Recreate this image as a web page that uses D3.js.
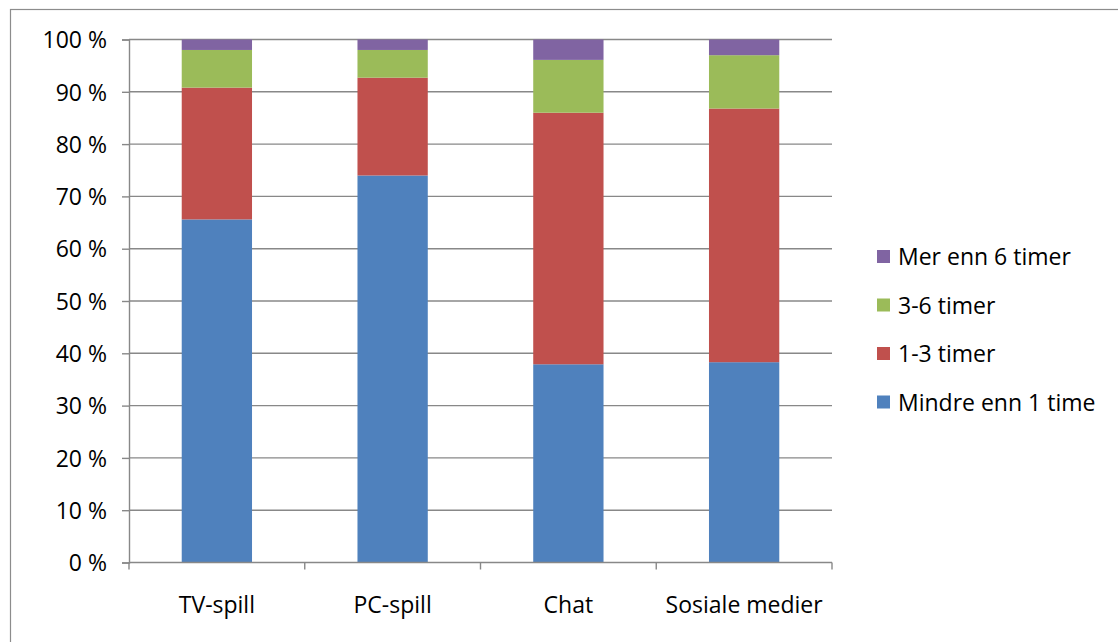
<!DOCTYPE html>
<html>
<head>
<meta charset="utf-8">
<script src="https://cdn.jsdelivr.net/npm/d3@7/dist/d3.min.js"></script>
<style>
  html, body { margin: 0; padding: 0; background: #fff; }
  svg { display: block; }
  text { font-family: "Open Sans", Lato, "DejaVu Sans", sans-serif; fill: #000; }
</style>
</head>
<body>
<svg id="chart" width="1118" height="642"></svg>
<script>
// Time spent per activity, share of respondents (%)
const categories = ["TV-spill", "PC-spill", "Chat", "Sosiale medier"];
const seriesNames = ["Mindre enn 1 time", "1-3 timer", "3-6 timer", "Mer enn 6 timer"];
const seriesColors = ["#4F81BD", "#C0504D", "#9BBB59", "#8064A2"];
const lessThan1h = [65.6, 74.0, 37.9, 38.3];
const from1to3h = [25.2, 18.7, 48.1, 48.5];
const from3to6h = [7.2, 5.3, 10.1, 10.2];
const moreThan6h = [2.0, 2.0, 3.9, 3.0];
const yTicks = [0, 10, 20, 30, 40, 50, 60, 70, 80, 90, 100];

const seriesValues = [lessThan1h, from1to3h, from3to6h, moreThan6h];
const rows = categories.map((c, i) => {
  const r = { category: c };
  seriesNames.forEach((s, k) => { r[s] = seriesValues[k][i]; });
  return r;
});
const stacked = d3.stack().keys(seriesNames)(rows);

const svg = d3.select("#chart");
const plot = { left: 129, right: 832, top: 39.5, bottom: 562.5 };
const fontSize = 23;

// outer chart frame
svg.append("rect")
  .attr("x", 10.5).attr("y", 9.5)
  .attr("width", 1130).attr("height", 660)
  .attr("fill", "none").attr("stroke", "#8c8c8c").attr("stroke-width", 1.2);

const x = d3.scaleBand().domain(categories)
  .range([plot.left, plot.right]).paddingInner(0.6).paddingOuter(0.3);
const y = d3.scaleLinear().domain([0, 100]).range([plot.bottom, plot.top]);

// horizontal gridlines
svg.append("g").selectAll("line").data(yTicks.filter(t => t > 0)).join("line")
  .attr("x1", plot.left).attr("x2", plot.right)
  .attr("y1", d => y(d)).attr("y2", d => y(d))
  .attr("stroke", "#888").attr("stroke-width", 1.4);

// stacked bars
svg.append("g").selectAll("g").data(stacked).join("g")
  .attr("fill", (d, i) => seriesColors[i])
  .selectAll("rect").data(d => d).join("rect")
  .attr("x", d => x(d.data.category))
  .attr("width", x.bandwidth())
  .attr("y", d => y(d[1]))
  .attr("height", d => y(d[0]) - y(d[1]));

// y axis
const yAxis = svg.append("g")
  .attr("transform", `translate(${plot.left},0)`)
  .call(d3.axisLeft(y).tickValues(yTicks).tickSize(7).tickPadding(15)
    .tickFormat(d => d + " %"));
yAxis.select(".domain").attr("stroke", "#888").attr("stroke-width", 1.4);
yAxis.selectAll(".tick line").attr("stroke", "#888").attr("stroke-width", 1.4);
yAxis.selectAll(".tick text").attr("font-size", fontSize).attr("font-family", null)
  .attr("dy", "0.36em");

// x axis with boundary ticks between categories
const xAxisG = svg.append("g");
xAxisG.append("line")
  .attr("x1", plot.left).attr("x2", plot.right)
  .attr("y1", plot.bottom).attr("y2", plot.bottom)
  .attr("stroke", "#888").attr("stroke-width", 1.4);
const step = (plot.right - plot.left) / categories.length;
xAxisG.selectAll("line.b").data(d3.range(categories.length + 1)).join("line")
  .attr("class", "b")
  .attr("x1", i => plot.left + i * step).attr("x2", i => plot.left + i * step)
  .attr("y1", plot.bottom).attr("y2", plot.bottom + 7)
  .attr("stroke", "#888").attr("stroke-width", 1.4);
xAxisG.selectAll("text").data(categories).join("text")
  .attr("x", d => x(d) + x.bandwidth() / 2)
  .attr("y", 613)
  .attr("text-anchor", "middle")
  .attr("font-size", fontSize)
  .text(d => d);

// legend (top entry is the last series)
const legend = svg.append("g");
const legendItems = seriesNames.map((s, i) => ({ name: s, color: seriesColors[i] })).reverse();
const lg = legend.selectAll("g").data(legendItems).join("g")
  .attr("transform", (d, i) => `translate(877, ${257 + i * 48.5})`);
lg.append("rect").attr("x", 0).attr("y", -7).attr("width", 13).attr("height", 13)
  .attr("fill", d => d.color);
lg.append("text").attr("x", 21).attr("y", 8).attr("font-size", fontSize).text(d => d.name);
</script>
</body>
</html>
